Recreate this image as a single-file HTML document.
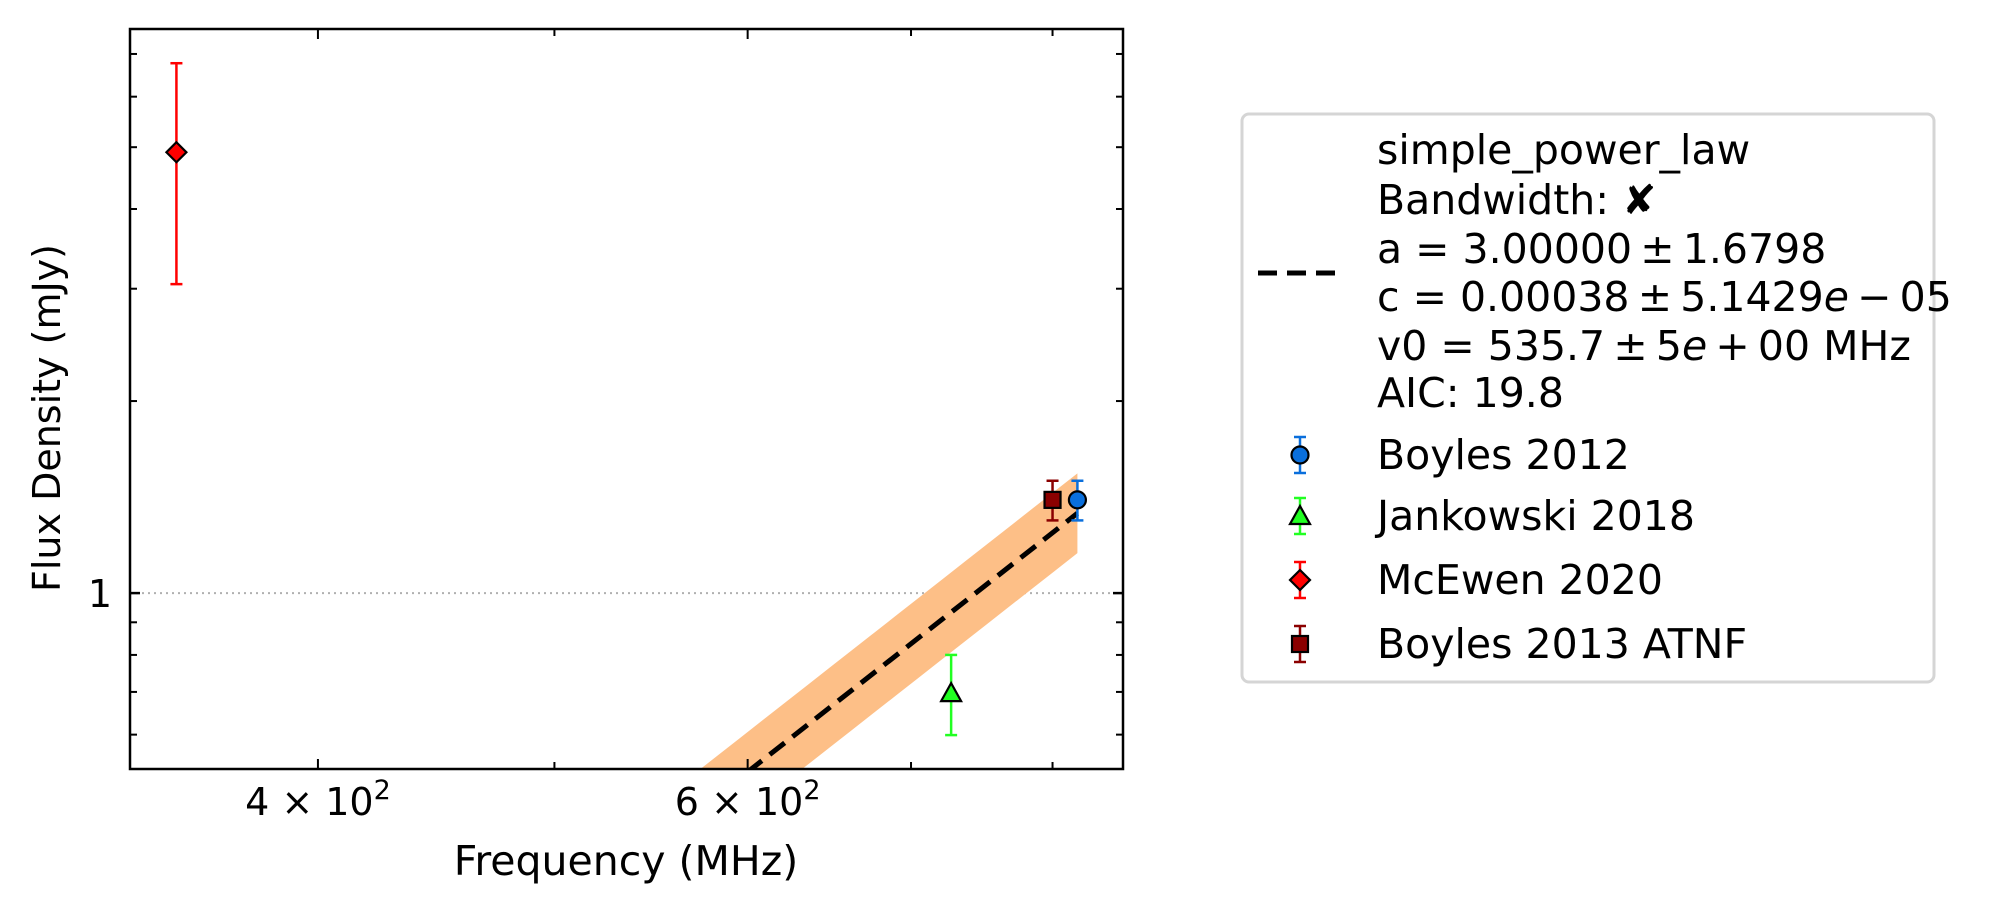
<!DOCTYPE html>
<html><head><meta charset="utf-8">
<style>
html,body{margin:0;padding:0;background:#fff;width:2002px;height:914px;overflow:hidden;}
svg{display:block;font-family:"DejaVu Sans","Liberation Sans",sans-serif;}
</style></head>
<body>
<svg id="chart" width="2002" height="914" viewBox="0 0 2002 914" xmlns="http://www.w3.org/2000/svg">
<defs><clipPath id="plotclip"><rect x="130" y="29" width="993" height="740"/></clipPath></defs>
<g id="plot" clip-path="url(#plotclip)"></g>
<g id="axes"></g>
<text x="626" y="875" font-size="41" text-anchor="middle">Frequency (MHz)</text>
<text x="0" y="0" font-size="38" text-anchor="middle" transform="translate(60,418) rotate(-90)">Flux Density (mJy)</text>
<g id="legend">
<rect x="1242" y="114" width="692" height="568" rx="7" fill="#fff" stroke="#d5d5d5" stroke-width="3"/>
<line x1="1258" y1="273" x2="1342" y2="273" stroke="#000" stroke-width="5" stroke-dasharray="19,10"/>
<g font-size="41">
<text x="1377" y="164">simple_power_law</text>
<text x="1377" y="214">Bandwidth: <tspan font-weight="bold">✘</tspan></text>
<text x="1377" y="263">a = 3.00000 ± 1.6798</text>
<text x="1377" y="311">c = 0.00038 ± 5.1429<tspan font-style="italic">e</tspan> − 05</text>
<text x="1377" y="360">v0 = 535.7 ± 5<tspan font-style="italic">e</tspan> + 00 MHz</text>
<text x="1377" y="407">AIC: 19.8</text>
</g>
<g id="legend-entries"></g>
</g>
</svg>
<script>
const NS="http://www.w3.org/2000/svg";
// data
const seriesNames=["Boyles 2012","Jankowski 2018","McEwen 2020","Boyles 2013 ATNF"];
const seriesFreq=[819,727,350,800];
const seriesFlux=[1.40,0.697,4.91,1.40];
const seriesErrLo=[1.30,0.599,3.05,1.30];
const seriesErrHi=[1.50,0.80,6.77,1.50];
const seriesColor=["#0a6fdc","#22ff22","#ff0000","#8b0000"];
const seriesMarker=["circle","triangle","diamond","square"];
const fitExponent=3.0;
const fitRefFreq=819;
const fitRefFlux=1.334;
const fitFreqRange=[350,819];
const fitBandFactor=1.155;
const xTickVals=[400,600];
const xTickLabels=["4","6"];
const xMinorVals=[500,700,800];
const yTickVals=[1];
const yTickLabels=["1"];
const yMinorVals=[0.6,0.7,0.8,0.9,2,3,4,5,6,7];
// axes
const X0=130,X1=1123,Y0=29,Y1=769;
const xMin=335,xMax=855,yMin=0.530,yMax=7.66;
function xs(v){return X0+(Math.log10(v)-Math.log10(xMin))/(Math.log10(xMax)-Math.log10(xMin))*(X1-X0);}
function ys(v){return Y1-(Math.log10(v)-Math.log10(yMin))/(Math.log10(yMax)-Math.log10(yMin))*(Y1-Y0);}
function el(t,a,p){const e=document.createElementNS(NS,t);for(const k in a)e.setAttribute(k,a[k]);p.appendChild(e);return e;}
// tighten math spacing around operators in legend
document.querySelectorAll('#legend text').forEach(t=>{t.innerHTML=t.innerHTML.replace(/ ± /g,'\u2009±\u2009').replace(/ − /g,'\u2009−\u2009').replace(/ \+ /g,'\u2009+\u2009');});
const plot=document.getElementById('plot'),axes=document.getElementById('axes');
const g1=el('line',{x1:X0,x2:X1,y1:ys(1),y2:ys(1),stroke:'#b0b0b0','stroke-width':2,'stroke-dasharray':'2,4'},plot);


function fit(f){return fitRefFlux*Math.pow(f/fitRefFreq,fitExponent);}
let up=[],lo=[];
for(let i=0;i<=40;i++){const f=fitFreqRange[0]*Math.pow(fitFreqRange[1]/fitFreqRange[0],i/40);up.push(xs(f)+','+ys(fit(f)*fitBandFactor));lo.unshift(xs(f)+','+ys(fit(f)/fitBandFactor));}
const band=el('polygon',{points:up.concat(lo).join(' '),fill:'#fdbf87',stroke:'none'},plot);


const fl=el('line',{x1:xs(fitFreqRange[0]),y1:ys(fit(fitFreqRange[0])),x2:xs(fitFreqRange[1]),y2:ys(fit(fitFreqRange[1])),stroke:'#000','stroke-width':5,'stroke-dasharray':'19,10'},plot);


function marker(kind,x,y,c,p,s){
 let m;
 if(kind==='circle')m=el('circle',{cx:x,cy:y,r:8.5*s},p);
 else if(kind==='square')m=el('rect',{x:x-8*s,y:y-8*s,width:16*s,height:16*s},p);
 else if(kind==='triangle')m=el('polygon',{points:`${x},${y-10*s} ${x-10*s},${y+8*s} ${x+10*s},${y+8*s}`},p);
 else m=el('polygon',{points:`${x},${y-10*s} ${x+10*s},${y} ${x},${y+10*s} ${x-10*s},${y}`},p);
 m.setAttribute('fill',c);m.setAttribute('stroke','#000');m.setAttribute('stroke-width',2.2);
 return m;
}
for(let i=0;i<seriesNames.length;i++){
 const g=el('g',{},plot);
 
 
 const x=xs(seriesFreq[i]),c=seriesColor[i];
 el('line',{x1:x,x2:x,y1:ys(seriesErrLo[i]),y2:ys(seriesErrHi[i]),stroke:c,'stroke-width':2.5},g);
 el('line',{x1:x-6,x2:x+6,y1:ys(seriesErrLo[i]),y2:ys(seriesErrLo[i]),stroke:c,'stroke-width':2.5},g);
 el('line',{x1:x-6,x2:x+6,y1:ys(seriesErrHi[i]),y2:ys(seriesErrHi[i]),stroke:c,'stroke-width':2.5},g);
 marker(seriesMarker[i],x,ys(seriesFlux[i]),c,g,1);
}
const fr=el('rect',{x:X0,y:Y0,width:X1-X0,height:Y1-Y0,fill:'none',stroke:'#000','stroke-width':2.5},axes);


function tick(x1,y1,x2,y2,w){el('line',{x1,y1,x2,y2,stroke:'#000','stroke-width':w},axes);}
xTickVals.forEach((v,i)=>{const x=xs(v);tick(x,Y1,x,Y1-10,2);tick(x,Y0,x,Y0+10,2);
 const t=el('text',{x:x,y:815,'font-size':38,'text-anchor':'middle'},axes);
 
 
 t.innerHTML=xTickLabels[i]+' × 10<tspan dy="-16" font-size="27">2</tspan>';});
xMinorVals.forEach(v=>{const x=xs(v);tick(x,Y1,x,Y1-7,2);tick(x,Y0,x,Y0+7,2);});
yTickVals.forEach((v,i)=>{const y=ys(v);tick(X0,y,X0+10,y,2.5);tick(X1,y,X1-10,y,2.5);
 const t=el('text',{x:112,y:y+14,'font-size':38,'text-anchor':'end'},axes);
 
 
 t.textContent=yTickLabels[i];});
yMinorVals.forEach(v=>{const y=ys(v);tick(X0,y,X0+7,y,2);tick(X1,y,X1-7,y,2);});
const le=document.getElementById('legend-entries');
const legY=[455,516,580,644];
for(let i=0;i<seriesNames.length;i++){
 const g=el('g',{},le);
 
 
 const x=1300,y=legY[i],c=seriesColor[i];
 el('line',{x1:x,x2:x,y1:y-18,y2:y+18,stroke:c,'stroke-width':2.5},g);
 el('line',{x1:x-6,x2:x+6,y1:y-18,y2:y-18,stroke:c,'stroke-width':2.5},g);
 el('line',{x1:x-6,x2:x+6,y1:y+18,y2:y+18,stroke:c,'stroke-width':2.5},g);
 marker(seriesMarker[i],x,y,c,g,1);
 const t=el('text',{x:1377,y:y+14,'font-size':41},g);
 t.textContent=seriesNames[i];
}
</script>
</body></html>
